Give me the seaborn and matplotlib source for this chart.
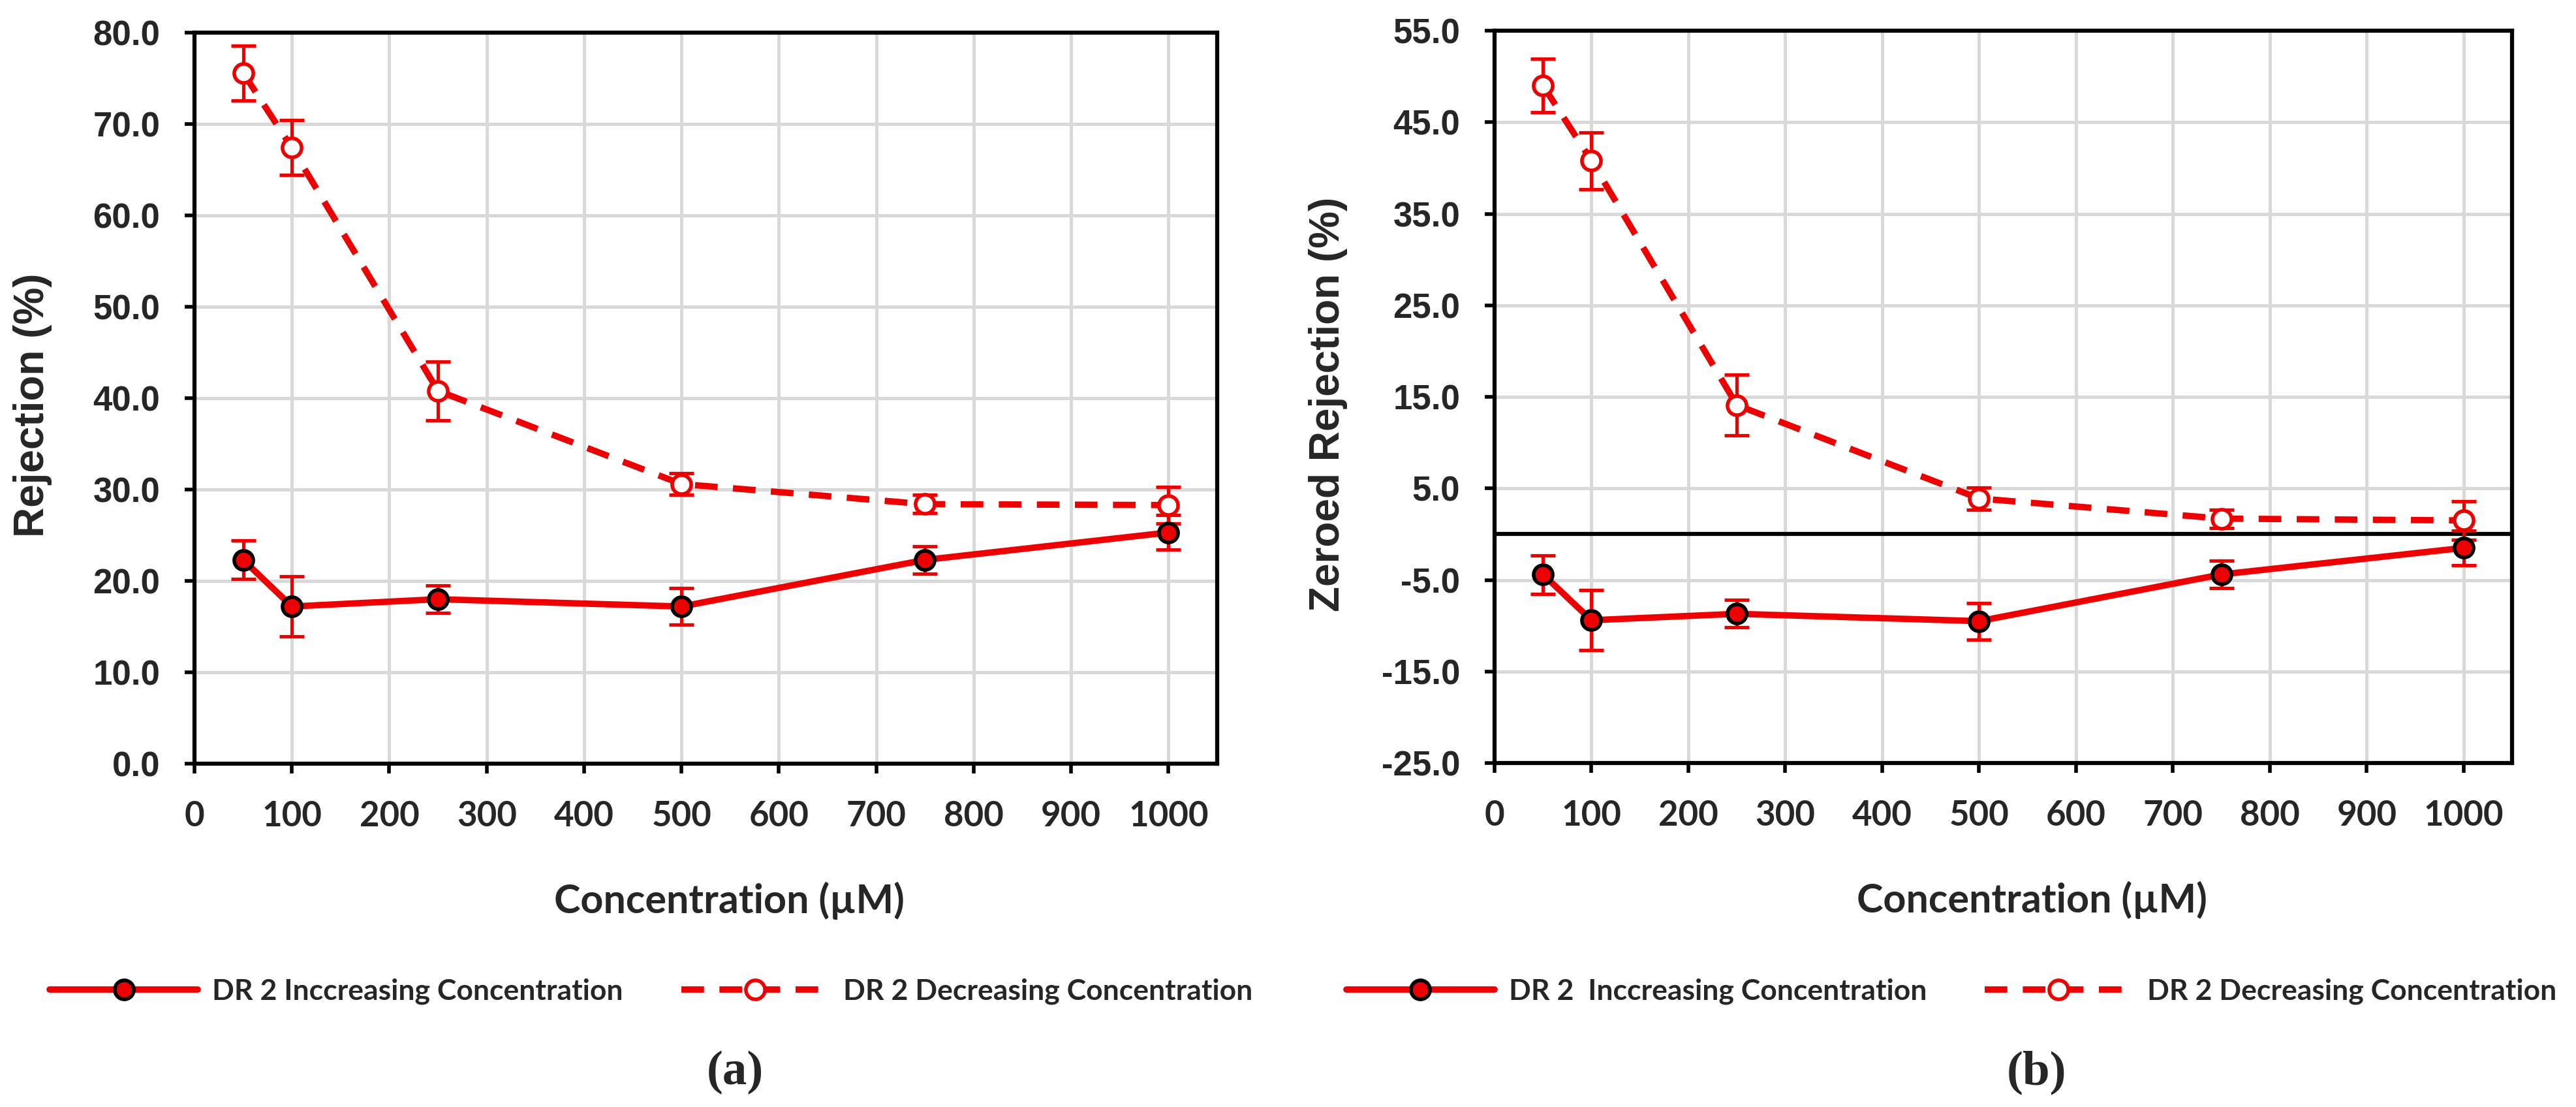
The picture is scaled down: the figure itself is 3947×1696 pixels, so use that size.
import matplotlib
matplotlib.use("Agg")
import matplotlib.pyplot as plt
import seaborn as sns
import pandas as pd
import numpy as np

# ---------------- data ----------------
conc = [50, 100, 250, 500, 750, 1000]
inc_rej = [22.3, 17.2, 18.0, 17.2, 22.3, 25.3]
inc_rej_err = [2.1, 3.3, 1.5, 2.0, 1.5, 1.9]
dec_rej = [75.6, 67.4, 40.8, 30.6, 28.4, 28.3]
dec_rej_err = [3.0, 3.0, 3.2, 1.2, 1.0, 2.0]
inc_zero = [-4.4, -9.4, -8.7, -9.5, -4.4, -1.5]
inc_zero_err = [2.1, 3.3, 1.5, 2.0, 1.5, 1.9]
dec_zero = [49.0, 40.8, 14.1, 3.9, 1.7, 1.5]
dec_zero_err = [2.9, 3.1, 3.3, 1.2, 1.0, 2.1]

x_ticks = [0, 100, 200, 300, 400, 500, 600, 700, 800, 900, 1000]
y_ticks_a = [0, 10, 20, 30, 40, 50, 60, 70, 80]
y_ticks_b = [-25, -15, -5, 5, 15, 25, 35, 45, 55]

labels_a = ["DR 2 Inccreasing Concentration", "DR 2 Decreasing Concentration"]
labels_b = ["DR 2  Inccreasing Concentration", "DR 2 Decreasing Concentration"]
xlabel = "Concentration (\u00b5M)"
ylabel_a = "Rejection (%)"
ylabel_b = "Zeroed Rejection (%)"
panel_a = "(a)"
panel_b = "(b)"

# ---------------- style ----------------
sns.set_theme(style="white")
plt.rcParams['font.family'] = ['Liberation Sans', 'DejaVu Sans']
plt.rcParams['lines.scale_dashes'] = False

RED = '#EE0000'
GRID = '#D9D9D9'
W, H = 3947, 1696
fig = plt.figure(figsize=(W / 100, H / 100), dpi=100)

SANS2 = ['Lato', 'DejaVu Sans']


def fx(px):
    return px / W


def fy(py):
    return 1 - py / H


def make_panel(rect, inc, inc_err, dec, dec_err, yticks, ylabel, labels,
               leg_center, ylabel_x, xlabel_x, panel_txt, panel_x, zero_line=False):
    ax = fig.add_axes(rect)
    df = pd.DataFrame({'x': conc, 'inc': inc, 'dec': dec})
    # error bars
    ax.errorbar(conc, inc, yerr=inc_err, fmt='none', ecolor=RED, elinewidth=3.8,
                capsize=14, capthick=3.8, zorder=3)
    ax.errorbar(conc, dec, yerr=dec_err, fmt='none', ecolor=RED, elinewidth=3.8,
                capsize=14, capthick=3.8, zorder=3)
    sns.lineplot(data=df, x='x', y='inc', ax=ax, color=RED, linewidth=7,
                 marker='o', markersize=21, markerfacecolor=RED,
                 markeredgecolor='black', markeredgewidth=4, label=labels[0],
                 zorder=4, legend=False)
    sns.lineplot(data=df, x='x', y='dec', ax=ax, color=RED, linewidth=7,
                 dashes=False, marker='o', markersize=21, markerfacecolor='white',
                 markeredgecolor=RED, markeredgewidth=4, label=labels[1],
                 zorder=4, legend=False)
    ax.lines[-1].set_dashes((25, 17))
    if zero_line:
        ax.axhline(0, color='black', linewidth=4.5, zorder=2)
    ax.set_xlim(0, 1050)
    ax.set_ylim(yticks[0], yticks[-1])
    ax.set_xticks(x_ticks)
    ax.set_yticks(yticks)
    ax.set_xticklabels([str(t) for t in x_ticks], fontfamily=SANS2,
                       fontweight='bold', fontsize=38)
    ax.set_yticklabels([f"{t:.1f}" for t in yticks], fontweight='bold', fontsize=38)
    ax.tick_params(axis='both', direction='out', length=11, width=4,
                   color='black', bottom=True, left=True)
    ax.tick_params(axis='y', pad=27)
    ax.tick_params(axis='x', pad=29)
    ax.set_axisbelow(True)
    ax.grid(True, color=GRID, linewidth=3.6)
    for s in ax.spines.values():
        s.set_color('black')
        s.set_linewidth(4.5)
        s.set_visible(True)
    ax.set_xlabel(xlabel, fontfamily=SANS2, fontweight='bold', fontsize=44)
    ax.set_ylabel(ylabel, fontweight='bold', fontsize=46)
    ax.xaxis.set_label_coords(xlabel_x, -0.1875)
    ax.yaxis.set_label_coords(ylabel_x, 0.49)
    ax.xaxis.label.set_verticalalignment('center')
    ax.yaxis.label.set_verticalalignment('center')
    lines = [l for l in ax.get_lines() if l.get_label() in labels]
    fig.legend(lines, labels, loc='center', bbox_to_anchor=leg_center,
               ncol=2, frameon=False, handlelength=5.1, handletextpad=0.5,
               columnspacing=2.0, prop={'family': SANS2, 'weight': 'bold', 'size': 32})
    fig.text(panel_x, fy(1643), panel_txt, ha='center', va='center',
             fontfamily=['Liberation Serif', 'DejaVu Serif'], fontweight='bold', fontsize=54)
    return ax


ax_a = make_panel([fx(298), fy(1170), fx(1865 - 298), (1170 - 50) / H],
                  inc_rej, inc_rej_err, dec_rej, dec_rej_err, y_ticks_a, ylabel_a,
                  labels_a, (fx(998), fy(1519)), (50 - 298) / 1567,
                  (1117 - 298) / 1567, panel_a, fx(1126))
ax_b = make_panel([fx(2290), fy(1169), fx(3849 - 2290), (1169 - 47) / H],
                  inc_zero, inc_zero_err, dec_zero, dec_zero_err, y_ticks_b, ylabel_b,
                  labels_b, (fx(2990), fy(1519)), (2035 - 2290) / 1559,
                  (3113 - 2290) / 1559, panel_b, fx(3120), zero_line=True)

fig.savefig('out.png', dpi=100, facecolor='white')
